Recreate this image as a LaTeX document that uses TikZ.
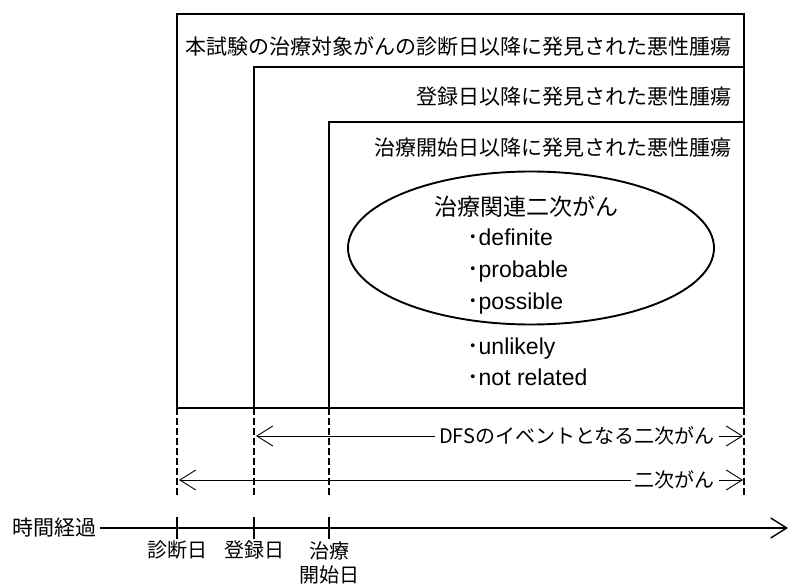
\documentclass[tikz,border=0pt]{standalone}
\usepackage{fontspec}
\setmainfont{Noto Sans CJK JP}
\newfontfamily\latinfont{Liberation Sans}
\usetikzlibrary{arrows.meta, positioning, shapes.geometric}

\begin{document}
\begin{tikzpicture}[
  x = 1pt,
  y = -1pt,
  font = \fontsize{21}{24}\selectfont,
  region/.style = {
    draw,
    line width = 2.2pt
  },
  marker/.style = {
    line width = 1.5pt,
    dash pattern = on 7pt off 3pt
  },
  span/.style = {
    line width = 0.9pt,
    {Straight Barb[length=16pt, width=20pt]}-{Straight Barb[length=16pt, width=20pt]}
  },
  spanlabel/.style = {
    fill = white,
    inner sep = 4pt,
    anchor = east,
    font = \fontsize{20}{24}\selectfont
  },
  item/.style = {
    anchor = base west,
    inner sep = 0pt,
    font = \fontsize{23}{26}\selectfont
  },
  ticklabel/.style = {
    anchor = north,
    align = center,
    inner sep = 0pt,
    font = \fontsize{20}{24}\selectfont
  }
]
\useasboundingbox (0,0) rectangle (788,585);

% Points on the time line
\coordinate (diag) at (177,408);
\coordinate (reg) at (254,408);
\coordinate (trt) at (329,408);
\coordinate (last) at (744,408);
\coordinate (markend) at (0,497);

% Regions
\draw[region] (diag) rectangle (744,14);
\draw[region] (reg) rectangle (744,67);
\draw[region] (trt) rectangle (744,122);

\node[anchor=base east] (alltumor) at (735,55) {本試験の治療対象がんの診断日以降に発見された悪性腫瘍};
\node[anchor=base east] (regtumor) at (735,105) {登録日以降に発見された悪性腫瘍};
\node[anchor=base east] (trttumor) at (735,156) {治療開始日以降に発見された悪性腫瘍};

% Treatment related cancers
\node[draw, ellipse, line width=1.9pt, minimum width=366pt, minimum height=153pt] (related) at (531,248) {};
\node[anchor=base, font=\fontsize{23}{26}\selectfont] (reltitle) at (526,216) {治療関連二次がん};
\node[item] (definite) at (467,246) {･{\latinfont definite}};
\node[item] (probable) at (467,278) {･{\latinfont probable}};
\node[item] (possible) at (467,310) {･{\latinfont possible}};
\node[item] (unlikely) at (467,355) {･{\latinfont unlikely}};
\node[item] (notrel) at (467,386) {･{\latinfont not related}};

% Dashed markers
\draw[marker] (diag) -- (diag |- markend);
\draw[marker] (reg) -- (reg |- markend);
\draw[marker] (trt) -- (trt |- markend);
\draw[marker] (last) -- (last |- markend);

% Spans
\coordinate (dfsL) at (256,436);
\coordinate (dfsR) at (743,436);
\coordinate (allL) at (179,480);
\coordinate (allR) at (743,480);
\draw[span] (dfsL) -- (dfsR);
\node[spanlabel] (dfslabel) at (719,436) {DFSのイベントとなる二次がん};
\draw[span] (allL) -- (allR);
\node[spanlabel] (alllabel) at (719,480) {二次がん};

% Time axis
\node[anchor=east, inner sep=3pt] (time) at (100,528) {時間経過};
\coordinate (axisend) at (788,528);
\draw[line width=1.4pt, -{Straight Barb[length=16pt, width=20pt]}] (time) -- (axisend);
\foreach \p/\t in {diag/診断日, reg/登録日, trt/治療\\開始日} {
  \draw[line width=2pt] (\p |- 0,517) -- (\p |- 0,539);
  \node[ticklabel] (\p-lbl) at (\p |- 0,541) {\t};
}

\end{tikzpicture}
\end{document}
